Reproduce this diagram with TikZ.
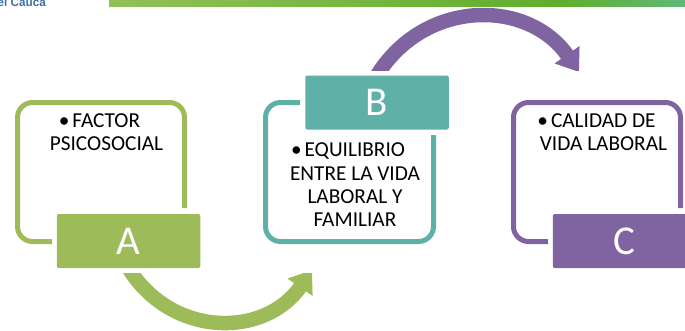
\documentclass[tikz,border=0pt]{standalone}
\usepackage{fontspec}
\setmainfont{Carlito}
\newfontfamily\logofont{Liberation Sans}
\usetikzlibrary{arrows.meta}
\definecolor{greenA}{HTML}{9DBB59}
\definecolor{tealB}{HTML}{5FB0A6}
\definecolor{purpleC}{HTML}{8064A2}
\definecolor{logoblue}{HTML}{3F6FA6}
\definecolor{barleft}{HTML}{92C05A}
\definecolor{barmid}{HTML}{5FAE2C}
\definecolor{barright}{HTML}{60B878}
\newcommand{\bulletline}[1]{\textbullet\hspace{3pt}#1\hbox to 14pt{}}
\tikzset{
  frame/.style={line width=5pt,rounded corners=15pt},
  tag/.style={minimum width=143.5pt,minimum height=54pt,inner sep=0pt,rounded corners=2pt,text=white,font=\fontsize{41}{41}\selectfont},
  body/.style={align=center,inner sep=0pt,text=black,font=\fontsize{21.3}{23.3}\selectfont},
  bow/.style={line width=14.5pt,-{Triangle[length=21pt,width=29pt]}}
}
\begin{document}
\begin{tikzpicture}[x=1pt,y=-1pt]
  \useasboundingbox (0,0) rectangle (685,330);

  % top of the page
  \shade[left color=barleft,right color=barmid] (109,0) rectangle (560,6);
  \shade[left color=barmid,right color=barright] (560,0) rectangle (685,6);
  \node[anchor=base east,inner sep=0pt,text=logoblue,font=\logofont\bfseries\fontsize{11.7}{12}\selectfont] (logo) at (46,6.5) {el Cauca};

  % frames
  \draw[frame,greenA] (52,241.5) -| (17.5,102.5) -| (184.5,208);
  \draw[frame,tealB] (300,102.5) -| (265.5,241.5) -| (433.5,135);
  \draw[frame,purpleC] (548,241.5) -| (513.5,102.5) -| (680.5,208);

  % tags
  \node[tag,fill=greenA] (A) at (128.5,241) {A};
  \node[tag,fill=tealB] (B) at (377,102.5) {B};
  \node[tag,fill=purpleC] (C) at (624.5,241) {C};

  % texts
  \node[body] (factor) at (106.5,132.5) {\bulletline{FACTOR}\\PSICOSOCIAL};
  \node[body] (equilibrio) at (355,185) {\bulletline{EQUILIBRIO}\\ENTRE LA VIDA\\LABORAL Y\\FAMILIAR};
  \node[body] (calidad) at (603.5,132.5) {\bulletline{CALIDAD DE}\\VIDA LABORAL};

  % arrows
  \coordinate (tipB) at (312,270);
  \coordinate (tipC) at (579,72);
  \begin{scope}
    \clip (100,273) rectangle (340,330);
    \draw[bow,greenA] (A.south) .. controls (172,338) and (265,338) .. (tipB);
  \end{scope}
  \begin{scope}
    \clip (360,0) rectangle (600,70);
    \draw[bow,purpleC] (B.north) .. controls (425,-1.5) and (528,-1.5) .. (tipC);
  \end{scope}
\end{tikzpicture}
\end{document}
